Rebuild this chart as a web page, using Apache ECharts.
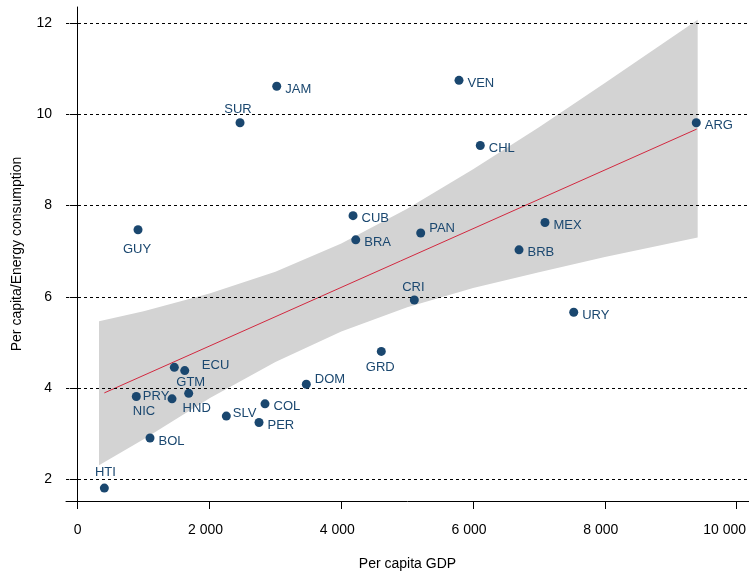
<!DOCTYPE html>
<html lang="en">
<head>
    <meta charset="UTF-8">
    <title>Energy efficiency vs GDP</title>
    <script type="text/javascript" src="https://cdn.jsdelivr.net/npm/echarts@6.0.0/dist/echarts.min.js"></script>
    <style>
        body { margin: 0; background: #fff; }
        #scatterChart { width: 749px; height: 575px; }
    </style>
</head>
<body>
<div id="scatterChart"></div>

<script>
    // data
    var countries = ['HTI', 'BOL', 'PRY', 'NIC', 'HND', 'ECU', 'GTM', 'SLV', 'PER', 'COL', 'DOM', 'GRD', 'CRI',
        'URY', 'GUY', 'SUR', 'JAM', 'CUB', 'BRA', 'VEN', 'CHL', 'ARG', 'PAN', 'MEX', 'BRB'];
    var gdp = [404, 1097, 889, 1431, 1684, 1466, 1624, 2255, 2751, 2842, 3469, 4607, 5108,
        7527, 915, 2463, 3020, 4178, 4219, 5786, 6109, 9387, 5205, 7091, 6697];
    var energy = [1.80, 2.90, 3.81, 3.76, 3.88, 4.45, 4.38, 3.38, 3.24, 3.65, 4.08, 4.80, 5.93,
        5.66, 7.47, 9.82, 10.62, 7.78, 7.25, 10.75, 9.32, 9.82, 7.40, 7.63, 7.03];

    // fitted line and its confidence band
    var fitX = [404, 9393];
    var fitY = [3.89, 9.68];
    var bandX = [323, 1000, 2000, 3000, 4000, 5000, 6000, 7000, 8000, 9408];
    var bandLo = [2.30, 2.87, 3.77, 4.57, 5.24, 5.77, 6.19, 6.54, 6.87, 7.30];
    var bandHi = [5.46, 5.68, 6.07, 6.55, 7.17, 7.93, 8.80, 9.72, 10.69, 12.08];

    var xTicks = [0, 2000, 4000, 6000, 8000, 10000];
    var yTicks = [2, 4, 6, 8, 10, 12];

    // label placement (like mlabvposition): shifted right-labels and centred ones
    var rightShift = { PAN: [0, -5], DOM: [0, -5], SLV: [-2, -3], PRY: [-2, 0], ECU: [19, -2] };
    var centred = {
        SUR: [-2, -13], GUY: [-1, 20], HTI: [1, -16], NIC: [-28, 13], HND: [8, 15],
        GTM: [6, 12], CRI: [-1, -13], GRD: [-1, 16]
    };

    var navy = '#1a476f';
    var font = "'Liberation Sans', Arial, sans-serif";

    // "2 000" style numbers, nudged left a little like the original
    function thousands(v) {
        var s = String(v).replace(/\B(?=(\d{3})+(?!\d))/g, ' ');
        if (v === 0) return '{z|' + s + '}';
        if (v >= 10000) return '{w|' + s + '}';
        return '{n|' + s + '}';
    }

    var points = [];
    for (var i = 0; i < countries.length; i++) {
        var c = countries[i];
        var lbl;
        if (centred[c]) {
            lbl = { position: 'inside', align: 'center', verticalAlign: 'middle', offset: centred[c] };
        } else {
            lbl = { position: 'right', distance: 4, offset: rightShift[c] || [0, 3] };
        }
        points.push({ value: [gdp[i], energy[i]], name: c, label: lbl });
    }

    var bandData = [];
    for (var k = 0; k < bandX.length; k++) {
        bandData.push([bandX[k], bandLo[k], bandHi[k]]);
    }

    var fitData = [];
    for (var m = 0; m < fitX.length; m++) {
        fitData.push([fitX[m], fitY[m]]);
    }

    var gridLines = yTicks.map(function (v) { return { yAxis: v }; });

    var myChart = echarts.init(document.getElementById('scatterChart'));

    var tickText = { fontSize: 14, color: '#000', fontFamily: font };

    var option = {
        animation: false,
        backgroundColor: '#fff',
        textStyle: { fontFamily: font },
        grid: { left: 66, right: 0, top: 7, bottom: 74, containLabel: false, outerBoundsMode: 'none' },
        xAxis: {
            type: 'value',
            min: -178,
            max: 10187,
            name: 'Per capita GDP',
            nameLocation: 'middle',
            nameGap: 56,
            nameTextStyle: { fontSize: 14, color: '#000', fontFamily: font },
            axisLine: { show: true, lineStyle: { color: '#000', width: 1 } },
            axisTick: { show: true, length: 8, customValues: xTicks, lineStyle: { color: '#000' } },
            axisLabel: {
                customValues: xTicks, margin: 22, fontSize: 14, color: '#000', fontFamily: font,
                formatter: thousands,
                rich: {
                    z: tickText,
                    n: Object.assign({ padding: [0, 8, 0, 0] }, tickText),
                    w: Object.assign({ padding: [0, 24, 0, 0] }, tickText)
                }
            },
            splitLine: { show: false }
        },
        yAxis: {
            type: 'value',
            min: 1.517,
            max: 12.36,
            name: 'Per capita/Energy consumption',
            nameLocation: 'middle',
            nameGap: 42,
            nameTextStyle: { fontSize: 14, color: '#000', fontFamily: font },
            axisLine: { show: true, lineStyle: { color: '#000', width: 1 } },
            axisTick: { show: true, length: 8, customValues: yTicks, lineStyle: { color: '#000' } },
            axisLabel: { customValues: yTicks, margin: 14, fontSize: 14, color: '#000', fontFamily: font },
            splitLine: { show: false }
        },
        series: [{
            name: 'CI',
            type: 'custom',
            z: 1,
            silent: true,
            data: bandData,
            encode: { x: 0, y: [1, 2] },
            renderItem: function (params, api) {
                if (params.dataIndex !== 0) {
                    return null;
                }
                var pts = [];
                for (var a = 0; a < bandX.length; a++) {
                    pts.push(api.coord([bandX[a], bandHi[a]]));
                }
                for (var b = bandX.length - 1; b >= 0; b--) {
                    pts.push(api.coord([bandX[b], bandLo[b]]));
                }
                return { type: 'polygon', shape: { points: pts }, style: { fill: '#d3d3d3' } };
            }
        }, {
            name: 'Fit',
            type: 'line',
            z: 3,
            silent: true,
            symbol: 'none',
            data: fitData,
            lineStyle: { color: '#d2283f', width: 1 },
            markLine: {
                silent: true,
                symbol: 'none',
                label: { show: false },
                lineStyle: { color: '#000', width: 1, type: [3, 3] },
                data: gridLines
            }
        }, {
            name: 'Countries',
            type: 'scatter',
            z: 5,
            symbol: 'circle',
            symbolSize: 9,
            itemStyle: { color: navy, opacity: 1 },
            label: { show: true, formatter: '{b}', fontSize: 13, color: navy, fontFamily: font },
            data: points
        }]
    };
    myChart.setOption(option);
</script>
</body>
</html>
